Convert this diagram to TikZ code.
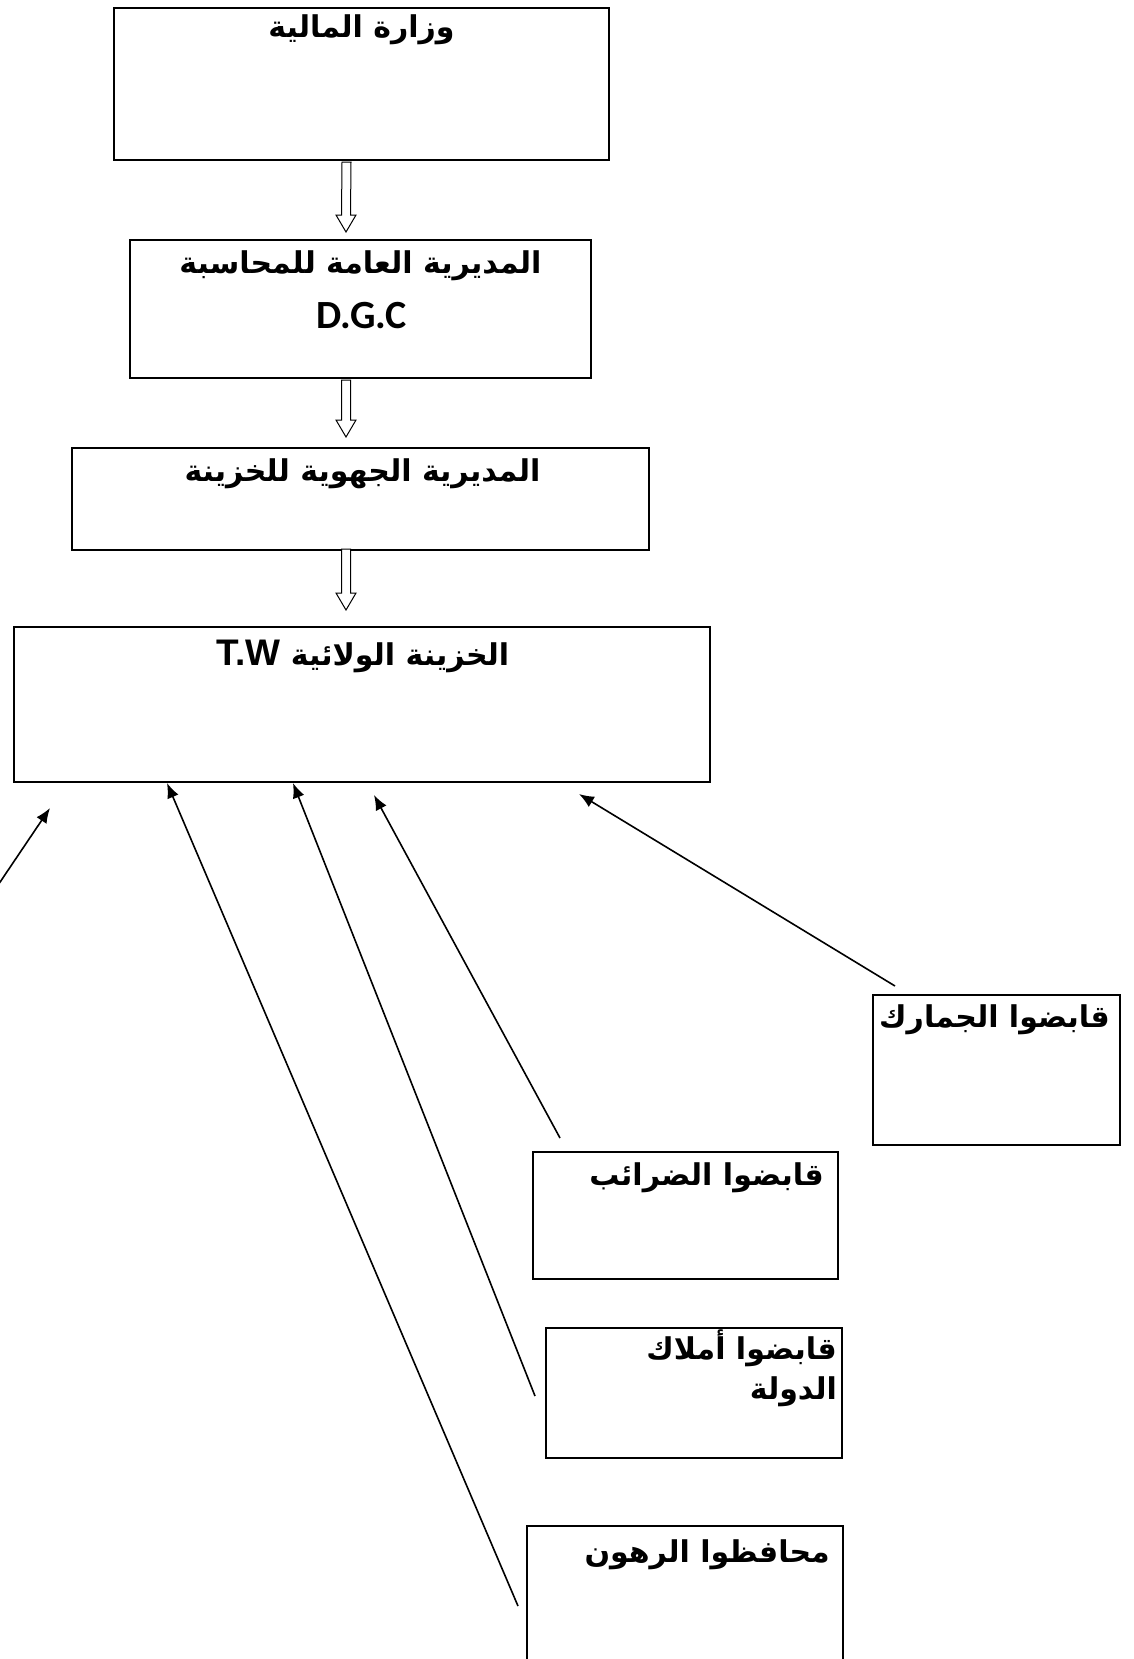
\documentclass[tikz,border=0pt]{standalone}
\usepackage{fontspec}
\usepackage{tikz}
\usetikzlibrary{positioning,calc,arrows.meta}
\TeXXeTstate=1
\newfontfamily\arabicfont[Script=Arabic]{DejaVu Sans}
\newfontfamily\latinfont{Liberation Sans}
\newfontfamily\calfont{Carlito}
\newcommand{\rtl}[1]{\beginR #1\endR}
% hollow block arrow between two named coordinates (tail, tip)
\newcommand{\hollowdown}[2]{%
  \draw[hollow] ($(#1)+(-4.5,0)$) -- ($(#2)+(-4.5,-17)$) -- ($(#2)+(-10,-17)$) -- (#2)
    -- ($(#2)+(10,-17)$) -- ($(#2)+(4.5,-17)$) -- ($(#1)+(4.5,0)$) -- cycle;}

\begin{document}
\begin{tikzpicture}[x=1pt, y=-1pt,
        box/.style={rectangle, draw, line width=2pt, anchor=north west, inner sep=0pt},
        ttl/.style={font=\arabicfont\bfseries\fontsize{30}{36}\selectfont, inner sep=0pt, anchor=base},
        sidettl/.style={ttl, anchor=base east, align=right},
        hollow/.style={draw, fill=white, line width=1pt, line join=miter},
        feed/.style={draw, line width=1.6pt, -{Latex[length=15pt,width=12pt]}}
    ]
    \useasboundingbox (0,0) rectangle (1133,1659);
    \clip (0,0) rectangle (1133,1659);

    % main chain
    \node[box, minimum width=495pt, minimum height=152pt] (min) at (113,7) {};
    \node[box, minimum width=461pt, minimum height=138pt] (dgc) at (129,239) {};
    \node[box, minimum width=577pt, minimum height=102pt] (drt) at (71,447) {};
    \node[box, minimum width=696pt, minimum height=155pt] (tw) at (13,626) {};

    \node[ttl] (mintxt) at ($(min.north)+(0,31)$) {\rtl{وزارة المالية}};
    \node[ttl] (dgctxt) at ($(dgc.north)+(0,34)$) {\rtl{المديرية العامة للمحاسبة}};
    \node[ttl, font=\calfont\bfseries\fontsize{40}{46}\selectfont] (dgcabbr) at ($(dgc.north)+(1,89)$) {D.G.C};
    \node[ttl] (drttxt) at ($(drt.north)+(2,34)$) {\rtl{المديرية الجهوية للخزينة}};
    \node[ttl] (twtxt) at ($(tw.north)+(1,39)$) {\rtl{الخزينة الولائية {\latinfont\bfseries\fontsize{37}{44}\selectfont\beginL T.W\endL}}};

    \coordinate (a1s) at ($(min.south)+(-15,1)$);
    \coordinate (a1e) at ($(dgc.north)+(-14.5,-7)$);
    \coordinate (a2s) at ($(dgc.south)+(-14.5,1)$);
    \coordinate (a2e) at ($(drt.north)+(-14.5,-10)$);
    \coordinate (a3s) at ($(drt.south)+(-14.5,-2)$);
    \coordinate (a3e) at ($(tw.north)+(-16,-16)$);
    \hollowdown{a1s}{a1e}
    \hollowdown{a2s}{a2e}
    \hollowdown{a3s}{a3e}

    % collectors
    \node[box, minimum width=247pt, minimum height=150pt] (jam) at (872,994) {};
    \node[box, minimum width=305pt, minimum height=127pt] (dar) at (532,1151) {};
    \node[box, minimum width=296pt, minimum height=130pt] (aml) at (545,1327) {};
    \node[box, minimum width=316pt, minimum height=200pt] (rah) at (526,1525) {};

    \node[sidettl] (jamtxt) at ($(jam.north east)+(-11,33)$) {\rtl{قابضوا الجمارك}};
    \node[sidettl] (dartxt) at ($(dar.north east)+(-15,34)$) {\rtl{قابضوا الضرائب}};
    \node[sidettl] (amltxt) at ($(aml.north east)+(-6,32)$) {\rtl{قابضوا أملاك}};
    \node[sidettl] (amltxt2) at ($(aml.north east)+(-6,72)$) {\rtl{الدولة}};
    \node[sidettl] (rahtxt) at ($(rah.north east)+(-14,37)$) {\rtl{محافظوا الرهون}};

    \coordinate (outer) at (-10,897);
    \draw[feed] (outer) -- ($(tw.south west)+(37,25)$);
    \draw[feed] ($(rah.north west)+(-8,81)$) -- ($(tw.south west)+(154,0)$);
    \draw[feed] ($(aml.north west)+(-10,69)$) -- ($(tw.south west)+(280,0)$);
    \draw[feed] ($(dar.north west)+(28,-13)$) -- ($(tw.south west)+(361,12)$);
    \draw[feed] ($(jam.north west)+(23,-8)$) -- ($(tw.south west)+(566,11)$);
\end{tikzpicture}
\end{document}
